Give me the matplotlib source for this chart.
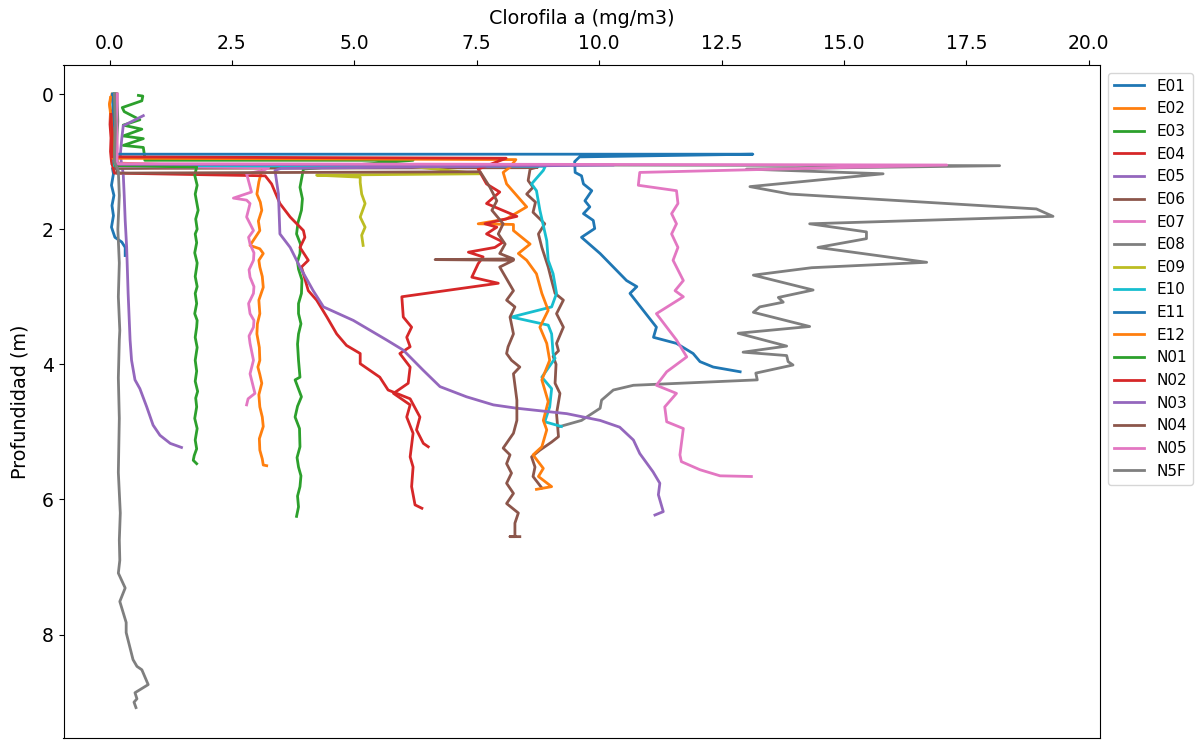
import matplotlib
matplotlib.use("Agg")
import matplotlib.pyplot as plt

# ---- data: chlorophyll (x) vs depth (y) per station ----
names = ["E01", "E02", "E03", "E04", "E05", "E06", "E07", "E08", "E09",
         "E10", "E11", "E12", "N01", "N02", "N03", "N04", "N05", "N5F"]

E01_x = [0.08, 0.12, 0.06, 0.10, 0.05, 1.44, 0.06, 0.08, 0.04, 0.09, 0.05, 0.08, 0.04, 0.11, 0.25, 0.32, 0.32]
E01_y = [0.00, 0.25, 0.50, 0.75, 1.04, 1.08, 1.10, 1.18, 1.35, 1.50, 1.65, 1.80, 1.97, 2.12, 2.19, 2.27, 2.39]

E02_x = [0.05, 0.00, 0.06, 0.08, 0.10, 3.20, 3.11, 3.05, 3.01, 3.08, 3.11, 3.04, 3.07, 2.87, 3.07, 3.14, 3.05, 3.07, 3.12, 3.14, 3.05, 3.07, 3.02, 3.01, 3.06, 3.07, 3.03, 3.07, 3.11, 3.05, 3.07, 3.12, 3.14, 3.06, 3.07, 3.12, 3.14, 3.21]
E02_y = [0.00, 0.15, 0.40, 0.70, 1.02, 1.09, 1.13, 1.30, 1.48, 1.60, 1.72, 1.88, 2.02, 2.24, 2.29, 2.36, 2.46, 2.56, 2.70, 2.86, 3.05, 3.25, 3.40, 3.55, 3.75, 3.94, 4.04, 4.15, 4.28, 4.45, 4.63, 4.78, 4.92, 5.10, 5.27, 5.40, 5.49, 5.50]

E03_x = [0.59, 0.68, 0.66, 0.26, 0.30, 0.62, 0.28, 0.66, 0.28, 0.69, 0.28, 0.69, 0.72, 0.72, 6.20, 3.96, 3.89, 3.94, 3.92, 3.85, 3.82, 3.90, 3.89, 3.84, 3.86, 3.93, 3.92, 3.86, 3.86, 3.91, 3.86, 3.84, 3.86, 3.89, 3.79, 3.92, 3.84, 3.79, 3.88, 3.89, 3.83, 3.86, 3.91, 3.89, 3.84, 3.86, 3.82]
E03_y = [0.02, 0.03, 0.10, 0.20, 0.26, 0.38, 0.46, 0.52, 0.62, 0.66, 0.76, 0.79, 0.94, 0.98, 0.98, 1.11, 1.38, 1.55, 1.72, 1.90, 2.07, 2.22, 2.36, 2.48, 2.59, 2.75, 2.95, 3.10, 3.25, 3.40, 3.55, 3.70, 3.94, 4.19, 4.23, 4.48, 4.62, 4.78, 4.95, 5.22, 5.38, 5.52, 5.65, 5.81, 5.95, 6.11, 6.25]

E04_x = [0.02, 0.01, 0.03, 0.02, 0.04, 0.10, 3.18, 3.31, 3.48, 3.69, 3.96, 3.99, 3.89, 4.06, 3.92, 4.06, 4.23, 4.44, 4.64, 4.84, 5.12, 5.12, 5.52, 5.69, 6.14, 6.34, 6.27, 6.41, 6.51]
E04_y = [0.25, 0.45, 0.65, 0.85, 1.00, 1.17, 1.21, 1.33, 1.62, 1.82, 2.02, 2.12, 2.27, 2.46, 2.56, 2.91, 3.05, 3.30, 3.55, 3.72, 3.84, 3.99, 4.19, 4.38, 4.51, 4.78, 4.97, 5.17, 5.22]

E05_x = [0.69, 0.28, 0.25, 0.22, 0.25, 0.28, 0.30, 0.32, 0.35, 0.38, 0.42, 0.45, 0.52, 0.62, 0.76, 0.89, 1.03, 1.24, 1.47]
E05_y = [0.32, 0.47, 0.66, 0.90, 1.05, 1.18, 1.50, 1.87, 2.27, 2.95, 3.64, 3.94, 4.23, 4.36, 4.63, 4.90, 5.05, 5.17, 5.23]

E06_x = [0.12, 0.10, 0.13, 0.11, 0.12, 8.50, 8.75, 8.59, 8.55, 8.65, 8.52, 8.70, 8.65, 8.89, 8.76, 8.83, 8.96, 9.03, 9.10, 9.27, 9.13, 9.27, 9.13, 9.17, 9.06, 9.12, 9.10, 9.20, 9.13, 9.17, 9.03, 8.79, 8.62, 8.69, 8.65, 8.83]
E06_y = [0.00, 0.35, 0.70, 1.00, 1.10, 1.09, 1.08, 1.11, 1.28, 1.38, 1.48, 1.60, 1.75, 1.92, 2.07, 2.27, 2.56, 2.76, 2.95, 3.05, 3.25, 3.45, 3.69, 3.80, 3.88, 4.00, 4.28, 4.43, 4.73, 5.07, 5.15, 5.27, 5.37, 5.52, 5.66, 5.83]

E07_x = [0.14, 0.16, 0.12, 0.15, 0.14, 3.25, 3.14, 2.80, 2.90, 2.53, 2.80, 2.87, 2.80, 2.94, 2.84, 2.87, 2.95, 2.94, 2.85, 2.87, 2.95, 2.94, 2.84, 2.87, 2.95, 2.94, 2.85, 2.87, 2.94, 2.87, 2.97, 2.83, 2.80]
E07_y = [0.00, 0.30, 0.60, 0.90, 1.07, 1.09, 1.13, 1.18, 1.45, 1.54, 1.57, 1.62, 1.82, 2.02, 2.12, 2.22, 2.35, 2.46, 2.60, 2.71, 2.85, 2.95, 3.10, 3.25, 3.35, 3.45, 3.58, 3.69, 3.94, 4.14, 4.43, 4.51, 4.60]

E08_x = [0.15, 0.17, 0.14, 0.16, 18.18, 13.01, 15.80, 13.08, 13.90, 18.93, 19.27, 14.30, 15.46, 15.46, 14.47, 16.69, 14.34, 13.15, 14.37, 13.66, 13.76, 13.28, 13.15, 14.30, 12.84, 13.83, 12.94, 13.83, 13.86, 13.96, 13.20, 13.23, 10.70, 10.29, 10.05, 10.02, 9.64, 9.20]
E08_y = [0.00, 0.40, 0.80, 1.04, 1.06, 1.11, 1.18, 1.37, 1.48, 1.70, 1.81, 1.92, 2.04, 2.14, 2.27, 2.49, 2.57, 2.68, 2.90, 3.01, 3.08, 3.15, 3.23, 3.44, 3.54, 3.73, 3.82, 3.87, 3.96, 4.01, 4.13, 4.23, 4.31, 4.38, 4.53, 4.65, 4.83, 4.92]

E09_x = [0.10, 0.12, 0.10, 0.12, 6.00, 7.57, 4.23, 5.12, 5.12, 5.15, 5.22, 5.12, 5.22, 5.15, 5.18]
E09_y = [0.00, 0.50, 1.00, 1.05, 1.06, 1.18, 1.20, 1.23, 1.31, 1.48, 1.62, 1.82, 1.97, 2.09, 2.24]

E10_x = [0.08, 0.10, 0.09, 0.10, 8.90, 8.86, 8.62, 8.72, 8.79, 8.93, 8.96, 9.06, 9.13, 9.03, 8.21, 8.96, 9.03, 9.06, 9.10, 8.83, 9.03, 8.99, 8.89, 9.23]
E10_y = [0.00, 0.50, 1.00, 1.06, 1.07, 1.13, 1.33, 1.43, 1.72, 2.17, 2.46, 2.66, 2.95, 3.15, 3.30, 3.42, 3.55, 3.84, 3.91, 4.19, 4.36, 4.63, 4.85, 4.92]

E11_x = [0.06, 0.08, 0.06, 0.07, 13.14, 9.60, 9.50, 9.51, 9.64, 9.68, 9.85, 9.71, 9.81, 9.68, 9.88, 9.91, 9.64, 10.02, 10.29, 10.56, 10.77, 10.63, 10.90, 11.17, 11.11, 11.58, 11.92, 12.06, 12.33, 12.88]
E11_y = [0.00, 0.40, 0.80, 0.89, 0.89, 0.93, 1.00, 1.16, 1.21, 1.33, 1.43, 1.58, 1.67, 1.77, 1.87, 1.99, 2.12, 2.36, 2.56, 2.76, 2.85, 2.95, 3.20, 3.45, 3.60, 3.69, 3.84, 3.96, 4.04, 4.11]

E12_x = [0.02, 0.00, 0.05, 0.07, 8.30, 8.18, 8.04, 8.11, 8.52, 8.10, 7.53, 8.25, 8.25, 8.59, 8.35, 8.52, 8.72, 8.83, 8.96, 8.79, 8.93, 8.99, 8.83, 8.96, 8.86, 8.93, 8.83, 8.65, 8.86, 8.76, 9.03, 8.72]
E12_y = [0.05, 0.15, 0.50, 0.95, 0.97, 1.08, 1.16, 1.33, 1.67, 1.85, 1.92, 1.93, 2.02, 2.22, 2.36, 2.46, 2.66, 2.95, 3.20, 3.45, 3.69, 3.94, 4.23, 4.55, 4.83, 4.97, 5.22, 5.34, 5.54, 5.66, 5.81, 5.85]

N01_x = [0.10, 0.12, 0.10, 0.12, 1.78, 1.74, 1.79, 1.75, 1.78, 1.81, 1.76, 1.79, 1.75, 1.78, 1.74, 1.79, 1.78, 1.75, 1.79, 1.75, 1.78, 1.74, 1.79, 1.78, 1.75, 1.79, 1.75, 1.78, 1.75, 1.80, 1.76, 1.78, 1.74, 1.79, 1.75, 1.78, 1.73, 1.71, 1.78]
N01_y = [0.00, 0.50, 1.00, 1.06, 1.08, 1.20, 1.35, 1.48, 1.60, 1.72, 1.85, 2.00, 2.07, 2.20, 2.35, 2.50, 2.56, 2.70, 2.85, 2.95, 3.10, 3.25, 3.35, 3.45, 3.60, 3.75, 3.94, 4.10, 4.25, 4.40, 4.50, 4.63, 4.80, 4.95, 5.12, 5.25, 5.35, 5.42, 5.47]

N02_x = [0.03, 0.05, 0.04, 8.10, 7.53, 7.70, 7.97, 7.70, 8.32, 7.67, 7.91, 7.70, 8.04, 7.87, 7.33, 7.63, 7.53, 7.40, 7.94, 5.97, 6.00, 6.17, 6.07, 6.14, 5.93, 6.14, 6.10, 5.80, 6.14, 6.07, 6.20, 6.14, 6.20, 6.17, 6.24, 6.38]
N02_y = [0.30, 0.60, 0.93, 0.95, 1.11, 1.33, 1.45, 1.62, 1.81, 1.92, 1.97, 2.07, 2.19, 2.27, 2.34, 2.41, 2.51, 2.71, 2.80, 3.00, 3.30, 3.45, 3.60, 3.74, 3.84, 4.04, 4.28, 4.43, 4.60, 4.78, 5.02, 5.37, 5.52, 5.81, 6.08, 6.13]

N03_x = [0.12, 0.13, 0.12, 0.12, 10.30, 3.50, 3.38, 3.45, 3.48, 3.69, 3.89, 4.16, 4.37, 4.98, 5.66, 6.00, 6.41, 6.75, 7.29, 7.84, 8.32, 9.34, 10.02, 10.42, 10.70, 10.83, 11.10, 11.24, 11.21, 11.31, 11.14]
N03_y = [0.00, 0.50, 1.00, 1.04, 1.05, 1.10, 1.13, 1.48, 2.07, 2.27, 2.56, 2.91, 3.15, 3.35, 3.64, 3.79, 4.09, 4.33, 4.48, 4.60, 4.65, 4.73, 4.83, 4.93, 5.12, 5.32, 5.59, 5.76, 5.93, 6.18, 6.23]

N04_x = [0.15, 0.13, 0.15, 0.15, 7.57, 7.77, 7.91, 7.81, 8.04, 7.94, 8.08, 7.97, 8.25, 6.65, 8.25, 7.97, 8.25, 8.11, 8.28, 8.18, 8.25, 8.14, 8.11, 8.21, 8.38, 8.25, 8.32, 8.32, 8.25, 8.04, 8.18, 8.11, 8.21, 8.11, 8.25, 8.11, 8.35, 8.28, 8.28, 8.18, 8.38]
N04_y = [0.00, 0.50, 1.00, 1.17, 1.15, 1.38, 1.58, 1.72, 1.92, 2.07, 2.22, 2.36, 2.44, 2.45, 2.46, 2.56, 2.91, 3.05, 3.15, 3.30, 3.55, 3.74, 3.84, 3.94, 4.04, 4.14, 4.53, 4.83, 5.02, 5.24, 5.34, 5.47, 5.61, 5.76, 5.91, 6.06, 6.20, 6.35, 6.55, 6.55, 6.55]

N05_x = [0.16, 0.14, 0.16, 0.15, 17.10, 10.83, 10.80, 11.58, 11.61, 11.48, 11.58, 11.48, 11.61, 11.51, 11.72, 11.55, 11.72, 11.17, 11.38, 11.58, 11.79, 11.38, 11.17, 11.58, 11.34, 11.38, 11.72, 11.65, 11.68, 12.06, 12.47, 13.11]
N05_y = [0.00, 0.40, 0.80, 1.03, 1.05, 1.16, 1.35, 1.43, 1.62, 1.77, 1.92, 2.07, 2.27, 2.46, 2.76, 2.91, 3.00, 3.25, 3.45, 3.64, 3.89, 4.11, 4.31, 4.43, 4.63, 4.85, 4.95, 5.34, 5.44, 5.56, 5.65, 5.66]

N5F_x = [0.10, 0.12, 0.10, 0.16, 0.18, 0.20, 0.17, 0.20, 0.18, 0.21, 0.20, 0.18, 0.20, 0.18, 0.22, 0.20, 0.21, 0.18, 0.32, 0.21, 0.34, 0.34, 0.48, 0.56, 0.66, 0.79, 0.52, 0.56, 0.50, 0.54]
N5F_y = [0.00, 0.50, 1.00, 1.10, 1.14, 1.50, 2.00, 2.50, 3.00, 3.50, 3.64, 4.20, 4.80, 5.60, 6.20, 6.60, 6.90, 7.09, 7.31, 7.51, 7.82, 7.97, 8.37, 8.47, 8.52, 8.74, 8.86, 8.95, 9.00, 9.08]

series_x = [E01_x, E02_x, E03_x, E04_x, E05_x, E06_x, E07_x, E08_x, E09_x,
            E10_x, E11_x, E12_x, N01_x, N02_x, N03_x, N04_x, N05_x, N5F_x]
series_y = [E01_y, E02_y, E03_y, E04_y, E05_y, E06_y, E07_y, E08_y, E09_y,
            E10_y, E11_y, E12_y, N01_y, N02_y, N03_y, N04_y, N05_y, N5F_y]

x_ticks = [0.0, 2.5, 5.0, 7.5, 10.0, 12.5, 15.0, 17.5, 20.0]
y_ticks = [0, 2, 4, 6, 8]

# ---- figure ----
fig = plt.figure(figsize=(12.02, 7.40), dpi=100)
ax = fig.add_axes([63.5 / 1202, 2 / 740, (1100 - 63.5) / 1202, (738 - 65) / 740])

colors = plt.rcParams['axes.prop_cycle'].by_key()['color']
for i, (name, xs, ys) in enumerate(zip(names, series_x, series_y)):
    ax.plot(xs, ys, color=colors[i % len(colors)], lw=2.0, label=name)

ax.set_xlim(-0.94, 20.23)
ax.set_ylim(9.53, -0.43)
ax.xaxis.tick_top()
ax.xaxis.set_label_position('top')
ax.set_xticks(x_ticks)
ax.set_xticklabels([f"{t:.1f}" for t in x_ticks])
ax.set_yticks(y_ticks)
ax.tick_params(labelsize=13.5)
ax.tick_params(axis='x', pad=5)
ax.set_xlabel("Clorofila a (mg/m3)", fontsize=13.8, labelpad=7)
ax.set_ylabel("Profundidad (m)", fontsize=13.8, labelpad=8.5)

ax.legend(loc='upper left', bbox_to_anchor=(1.0, 1.0), fontsize=11, borderaxespad=0.5)

fig.savefig("out.png", dpi=100)
